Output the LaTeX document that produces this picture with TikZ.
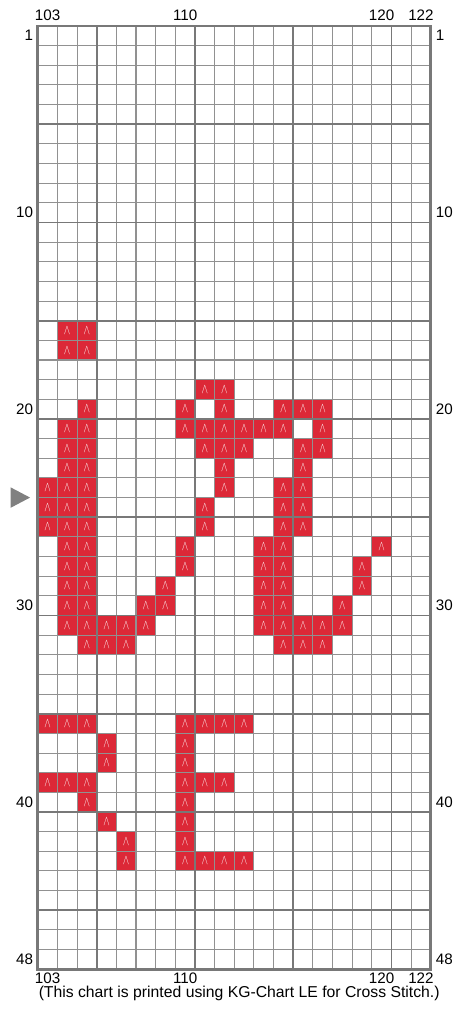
\documentclass[tikz,border=0pt]{standalone}
\usepackage{fontspec}
\setmainfont{Liberation Sans}
\definecolor{stitchred}{RGB}{220,40,55}
\definecolor{gridlight}{RGB}{145,145,145}
\definecolor{griddark}{RGB}{120,120,120}
\begin{document}
\begin{tikzpicture}[
        x=0.5cm, y=0.5cm,
        stitch/.style={rectangle, fill=stitchred, minimum size=0.5cm, inner sep=0pt, text=white, font=\fontsize{10}{11}\selectfont},
        thingrid/.style={draw=gridlight, line width=0.75pt},
        majorgrid/.style={draw=griddark, line width=1.3pt},
        border/.style={draw=griddark, line width=2pt},
        collabel/.style={font=\fontsize{11}{13}\selectfont, inner sep=0pt},
        rowlabel/.style={font=\fontsize{11}{13}\selectfont, inner sep=0pt},
    ]
        \useasboundingbox (-1.92,1.32) rectangle (21.18,-50.28);

        % Stitches
        \foreach \r/\cs in {16/{1,2}, 17/{1,2}, 19/{8,9}, 20/{2,7,9,12,13,14},
                21/{1,2,7,8,9,10,11,12,14}, 22/{1,2,8,9,10,13,14}, 23/{1,2,9,13},
                24/{0,1,2,9,12,13}, 25/{0,1,2,8,12,13}, 26/{0,1,2,8,12,13},
                27/{1,2,7,11,12,17}, 28/{1,2,7,11,12,16}, 29/{1,2,6,11,12,16},
                30/{1,2,5,6,11,12,15}, 31/{1,2,3,4,5,11,12,13,14,15}, 32/{2,3,4,12,13,14},
                36/{0,1,2,7,8,9,10}, 37/{3,7}, 38/{3,7}, 39/{0,1,2,7,8,9},
                40/{2,7}, 41/{3,7}, 42/{4,7}, 43/{4,7,8,9,10}}
            \foreach \c in \cs
                \node[stitch] (s-\c-\r) at (\c+0.5, -\r+0.5) {\scalebox{0.7}[1]{$\wedge$}};

        % Grid
        \draw[thingrid, step=0.5cm] (0,0) grid (20,-48);
        \foreach \x in {3,8,13,18}
            \draw[majorgrid] (\x,0) -- (\x,-48);
        \foreach \y in {5,10,...,45}
            \draw[majorgrid] (0,-\y) -- (20,-\y);
        \draw[border] (0,0) rectangle (20,-48);

        % Column numbers
        \foreach \c/\n in {0/103, 7/110, 17/120, 19/122} {
            \node[collabel] (top\n) at (\c+0.5, 0.56) {\n};
            \node[collabel] (bot\n) at (\c+0.5, -48.45) {\n};
        }

        % Row numbers
        \foreach \r in {1,10,20,30,40,48} {
            \node[rowlabel, anchor=east] (left\r) at (-0.22, -\r+0.5) {\r};
            \node[rowlabel, anchor=west] (right\r) at (20.25, -\r+0.5) {\r};
        }

        % Centre mark
        \fill[gray] (-1.38,-23.48) -- (-0.39,-24) -- (-1.38,-24.52) -- cycle;

        % Footer
        \node[font=\fontsize{11.4}{13}\selectfont, inner sep=0pt] (note) at (10.25,-49.22)
            {(This chart is printed using KG-Chart LE for Cross Stitch.)};

    \end{tikzpicture}
\end{document}
